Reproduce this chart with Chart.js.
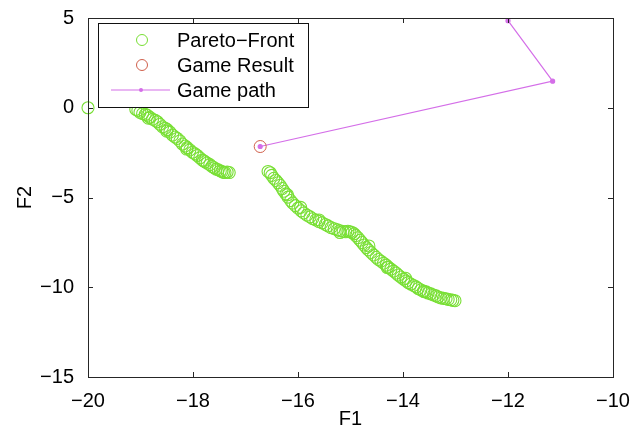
<!DOCTYPE html>
<html>
<head>
<meta charset="utf-8">
<script src="https://cdn.jsdelivr.net/npm/chart.js@4.4.1/dist/chart.umd.min.js"></script>
<style>
  html, body { margin: 0; padding: 0; background: #fff; }
  #wrap { width: 634px; height: 431px; }
</style>
</head>
<body>
<div id="wrap"><canvas id="c" width="634" height="431"></canvas></div>
<script>
// ---- data ----
const paretoX = [-20.00,
  -19.09, -19.01, -18.91, -18.82, -18.72, -18.63, -18.53, -18.44, -18.34, -18.25,
  -18.15, -18.06, -17.96, -17.87, -17.77, -17.68, -17.60, -17.52, -17.45, -17.39, -17.31,
  -16.57, -16.50, -16.42, -16.34, -16.27, -16.19, -16.10, -16.00, -15.89, -15.77,
  -15.66, -15.54, -15.43, -15.31, -15.20, -15.09, -15.01, -14.93, -14.86, -14.78,
  -14.70, -14.61, -14.51, -14.42, -14.32, -14.23, -14.13, -14.04, -13.94, -13.85,
  -13.75, -13.66, -13.56, -13.47, -13.37, -13.28, -13.18, -13.09, -13.01];
const paretoY = [0.00,
  -0.09, -0.26, -0.37, -0.53, -0.70, -0.92, -1.14, -1.36, -1.63, -1.85,
  -2.13, -2.35, -2.57, -2.79, -3.01, -3.17, -3.34, -3.45, -3.55, -3.61, -3.61,
  -3.55, -3.77, -4.05, -4.32, -4.65, -4.98, -5.31, -5.59, -5.86, -6.08,
  -6.25, -6.41, -6.58, -6.74, -6.85, -6.91, -6.91, -7.02, -7.24, -7.51,
  -7.79, -8.06, -8.33, -8.55, -8.77, -8.99, -9.21, -9.43, -9.65, -9.82,
  -9.98, -10.15, -10.26, -10.37, -10.48, -10.59, -10.64, -10.70, -10.75];
// further circles
const paretoX2 = [
  -19.05, -18.96, -18.87, -18.77, -18.68, -18.58, -18.49, -18.39, -18.30, -18.20,
  -18.11, -18.01, -17.92, -17.82, -17.73, -17.64, -17.56, -17.48, -17.42, -17.35,
  -18.85, -18.50, -18.12, -17.80,
  -16.53, -16.46, -16.38, -16.30, -16.23, -16.14, -16.05, -15.94, -15.83, -15.72,
  -15.60, -15.48, -15.37, -15.25, -15.14, -15.05, -14.97, -14.90, -14.82, -14.74,
  -14.66, -14.56, -14.47, -14.37, -14.28, -14.18, -14.09, -13.99, -13.90, -13.80,
  -13.71, -13.61, -13.52, -13.42, -13.33, -13.23, -13.14, -13.05,
  -16.20, -15.95, -15.60, -15.20, -14.65, -14.30, -13.95, -13.60];
const paretoY2 = [
  -0.15, -0.33, -0.42, -0.64, -0.78, -1.06, -1.22, -1.52, -1.71, -2.02,
  -2.22, -2.48, -2.66, -2.92, -3.08, -3.27, -3.42, -3.52, -3.60, -3.58,
  -0.58, -1.30, -2.30, -2.95,
  -3.62, -3.93, -4.18, -4.50, -4.80, -5.17, -5.45, -5.74, -5.98, -6.18,
  -6.34, -6.50, -6.68, -6.80, -6.89, -6.88, -6.95, -7.12, -7.38, -7.65,
  -7.92, -8.20, -8.45, -8.66, -8.88, -9.10, -9.32, -9.55, -9.74, -9.90,
  -10.07, -10.21, -10.32, -10.43, -10.54, -10.62, -10.68, -10.73,
  -4.85, -5.55, -6.25, -6.95, -7.70, -8.90, -9.50, -10.25];
const resultX = [-16.72];
const resultY = [-2.16];
const pathX = [-12.00, -11.15, -16.72];
const pathY = [4.85, 1.48, -2.16];
const xTicks = [-20, -18, -16, -14, -12, -10];
const yTicks = [-15, -10, -5, 0, 5];
const seriesNames = ['Pareto\u2212Front', 'Game Result', 'Game path'];

const GREEN = '#78DF34', RED = '#D0604C', MAG = '#D46EE8';
const FONT = '"Liberation Sans", Arial, Helvetica, sans-serif';
const zip = (xs, ys) => xs.map((x, i) => ({x, y: ys[i]}));
const fmt = v => String(v).replace('-', '\u2212');

const framePlugin = {
  id: 'frame',
  afterDraw(chart) {
    const {ctx, chartArea: a, scales} = chart;
    ctx.save();
    ctx.strokeStyle = '#262626';
    ctx.lineWidth = 1;
    ctx.strokeRect(Math.round(a.left) + 0.5, Math.round(a.top) + 0.5,
                   Math.round(a.right - a.left), Math.round(a.bottom - a.top));
    ctx.beginPath();
    const tl = 5;
    xTicks.forEach(v => {
      const px = Math.round(scales.x.getPixelForValue(v)) + 0.5;
      ctx.moveTo(px, a.bottom); ctx.lineTo(px, a.bottom - tl);
      ctx.moveTo(px, a.top); ctx.lineTo(px, a.top + tl);
    });
    yTicks.forEach(v => {
      const py = Math.round(scales.y.getPixelForValue(v)) + 0.5;
      ctx.moveTo(a.left, py); ctx.lineTo(a.left + tl, py);
      ctx.moveTo(a.right, py); ctx.lineTo(a.right - tl, py);
    });
    ctx.stroke();

    // legend box (inside plot, top-left)
    const bx = 98.5, by = 23.5, bw = 210, bh = 84;
    ctx.fillStyle = '#fff';
    ctx.fillRect(bx, by, bw, bh);
    ctx.strokeStyle = '#111';
    ctx.strokeRect(bx, by, bw, bh);
    const rows = [40, 65, 90];
    const ds = chart.data.datasets;
    ctx.font = '20px ' + FONT;
    ctx.textBaseline = 'middle';
    ctx.textAlign = 'left';
    ds.forEach((d, i) => {
      const y = rows[i];
      if (i < 2) {
        ctx.beginPath();
        ctx.strokeStyle = d.borderColor;
        ctx.lineWidth = 1;
        ctx.arc(142, y, 5.5, 0, Math.PI * 2);
        ctx.stroke();
      } else {
        ctx.beginPath();
        ctx.strokeStyle = d.borderColor;
        ctx.lineWidth = 1.2;
        ctx.moveTo(111, y); ctx.lineTo(170, y);
        ctx.stroke();
        ctx.beginPath();
        ctx.fillStyle = d.borderColor;
        ctx.arc(141, y, 2, 0, Math.PI * 2);
        ctx.fill();
      }
      ctx.fillStyle = '#000';
      ctx.fillText(d.label, 177, y + 1);
    });
    ctx.restore();
  }
};

new Chart(document.getElementById('c'), {
  type: 'scatter',
  data: {
    datasets: [
      { label: seriesNames[0], data: zip(paretoX.concat(paretoX2), paretoY.concat(paretoY2)),
        showLine: false, pointStyle: 'circle', pointRadius: 6, pointBorderWidth: 1.1,
        borderColor: GREEN, backgroundColor: 'rgba(0,0,0,0)', clip: false },
      { label: seriesNames[1], data: zip(resultX, resultY), showLine: false,
        pointStyle: 'circle', pointRadius: 6, pointBorderWidth: 1,
        borderColor: RED, backgroundColor: 'rgba(0,0,0,0)', clip: false },
      { label: seriesNames[2], data: zip(pathX, pathY), showLine: true,
        borderColor: MAG, borderWidth: 1.2, pointRadius: 2,
        pointBackgroundColor: MAG, pointBorderColor: MAG, clip: false }
    ]
  },
  options: {
    responsive: false,
    animation: false,
    events: [],
    layout: { padding: { top: 13, right: 21, left: 0, bottom: 0 } },
    plugins: { legend: { display: false }, tooltip: { enabled: false } },
    scales: {
      x: {
        type: 'linear', min: -20, max: -10,
        afterBuildTicks: s => { s.ticks = xTicks.map(v => ({value: v})); },
        afterFit: s => { s.height = 54; },
        grid: { display: false },
        border: { display: false },
        ticks: { color: '#000', font: { family: FONT, size: 20 }, padding: 4,
                 maxRotation: 0, callback: fmt },
        title: { display: true, text: 'F1', color: '#000',
                 font: { family: FONT, size: 20 }, padding: { top: 0, bottom: 0 } }
      },
      y: {
        type: 'linear', min: -15, max: 5,
        afterBuildTicks: s => { s.ticks = yTicks.map(v => ({value: v})); },
        afterFit: s => { s.width = 88; },
        grid: { display: false },
        border: { display: false },
        ticks: { color: '#000', font: { family: FONT, size: 20 }, padding: 6,
                 callback: fmt },
        title: { display: true, text: 'F2', color: '#000',
                 font: { family: FONT, size: 20 }, padding: { top: 13, bottom: 0 } }
      }
    }
  },
  plugins: [framePlugin]
});
</script>
</body>
</html>
